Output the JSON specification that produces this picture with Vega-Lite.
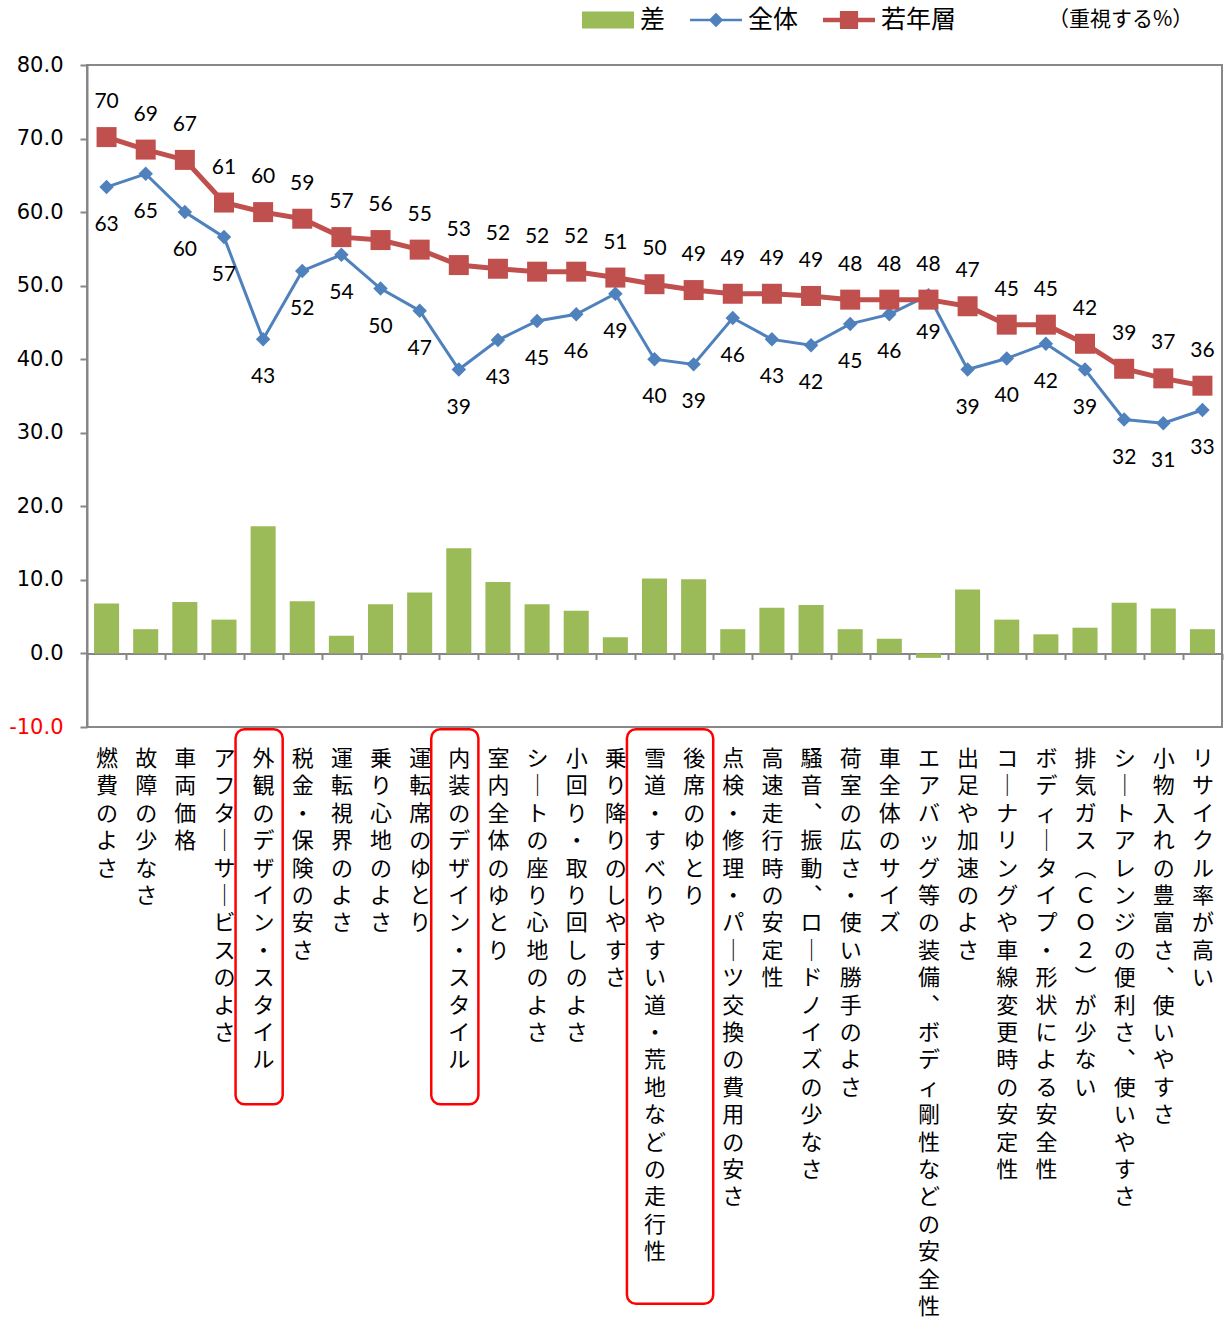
{
  "$schema": "https://vega.github.io/schema/vega-lite/v6.json",
  "width": 1135,
  "height": 662,
  "autosize": {"type": "none"},
  "padding": {"left": 87, "top": 65, "right": 4, "bottom": 592},
  "background": "white",
  "config": {
    "view": {"stroke": "#888888", "strokeWidth": 2},
    "legend": {"padding": 0}
  },
  "datasets": {
    "main": [
      {"cat": "燃費のよさ", "s": "差", "v": 6.8}, {"cat": "燃費のよさ", "s": "全体", "v": 63.4}, {"cat": "燃費のよさ", "s": "若年層", "v": 70.2},
      {"cat": "故障の少なさ", "s": "差", "v": 3.3}, {"cat": "故障の少なさ", "s": "全体", "v": 65.2}, {"cat": "故障の少なさ", "s": "若年層", "v": 68.5},
      {"cat": "車両価格", "s": "差", "v": 7.0}, {"cat": "車両価格", "s": "全体", "v": 60.0}, {"cat": "車両価格", "s": "若年層", "v": 67.1},
      {"cat": "アフターサービスのよさ", "s": "差", "v": 4.6}, {"cat": "アフターサービスのよさ", "s": "全体", "v": 56.6}, {"cat": "アフターサービスのよさ", "s": "若年層", "v": 61.3},
      {"cat": "外観のデザイン・スタイル", "s": "差", "v": 17.3}, {"cat": "外観のデザイン・スタイル", "s": "全体", "v": 42.7}, {"cat": "外観のデザイン・スタイル", "s": "若年層", "v": 60.0},
      {"cat": "税金・保険の安さ", "s": "差", "v": 7.1}, {"cat": "税金・保険の安さ", "s": "全体", "v": 52.0}, {"cat": "税金・保険の安さ", "s": "若年層", "v": 59.1},
      {"cat": "運転視界のよさ", "s": "差", "v": 2.4}, {"cat": "運転視界のよさ", "s": "全体", "v": 54.2}, {"cat": "運転視界のよさ", "s": "若年層", "v": 56.6},
      {"cat": "乗り心地のよさ", "s": "差", "v": 6.7}, {"cat": "乗り心地のよさ", "s": "全体", "v": 49.6}, {"cat": "乗り心地のよさ", "s": "若年層", "v": 56.2},
      {"cat": "運転席のゆとり", "s": "差", "v": 8.3}, {"cat": "運転席のゆとり", "s": "全体", "v": 46.6}, {"cat": "運転席のゆとり", "s": "若年層", "v": 54.9},
      {"cat": "内装のデザイン・スタイル", "s": "差", "v": 14.3}, {"cat": "内装のデザイン・スタイル", "s": "全体", "v": 38.6}, {"cat": "内装のデザイン・スタイル", "s": "若年層", "v": 52.8},
      {"cat": "室内全体のゆとり", "s": "差", "v": 9.7}, {"cat": "室内全体のゆとり", "s": "全体", "v": 42.6}, {"cat": "室内全体のゆとり", "s": "若年層", "v": 52.3},
      {"cat": "シートの座り心地のよさ", "s": "差", "v": 6.7}, {"cat": "シートの座り心地のよさ", "s": "全体", "v": 45.2}, {"cat": "シートの座り心地のよさ", "s": "若年層", "v": 51.9},
      {"cat": "小回り・取り回しのよさ", "s": "差", "v": 5.8}, {"cat": "小回り・取り回しのよさ", "s": "全体", "v": 46.1}, {"cat": "小回り・取り回しのよさ", "s": "若年層", "v": 51.9},
      {"cat": "乗り降りのしやすさ", "s": "差", "v": 2.2}, {"cat": "乗り降りのしやすさ", "s": "全体", "v": 48.9}, {"cat": "乗り降りのしやすさ", "s": "若年層", "v": 51.1},
      {"cat": "雪道・すべりやすい道・荒地などの走行性", "s": "差", "v": 10.2}, {"cat": "雪道・すべりやすい道・荒地などの走行性", "s": "全体", "v": 40.0}, {"cat": "雪道・すべりやすい道・荒地などの走行性", "s": "若年層", "v": 50.2},
      {"cat": "後席のゆとり", "s": "差", "v": 10.1}, {"cat": "後席のゆとり", "s": "全体", "v": 39.3}, {"cat": "後席のゆとり", "s": "若年層", "v": 49.4},
      {"cat": "点検・修理・パーツ交換の費用の安さ", "s": "差", "v": 3.3}, {"cat": "点検・修理・パーツ交換の費用の安さ", "s": "全体", "v": 45.6}, {"cat": "点検・修理・パーツ交換の費用の安さ", "s": "若年層", "v": 48.9},
      {"cat": "高速走行時の安定性", "s": "差", "v": 6.2}, {"cat": "高速走行時の安定性", "s": "全体", "v": 42.7}, {"cat": "高速走行時の安定性", "s": "若年層", "v": 48.9},
      {"cat": "騒音、振動、ロードノイズの少なさ", "s": "差", "v": 6.6}, {"cat": "騒音、振動、ロードノイズの少なさ", "s": "全体", "v": 41.9}, {"cat": "騒音、振動、ロードノイズの少なさ", "s": "若年層", "v": 48.6},
      {"cat": "荷室の広さ・使い勝手のよさ", "s": "差", "v": 3.3}, {"cat": "荷室の広さ・使い勝手のよさ", "s": "全体", "v": 44.8}, {"cat": "荷室の広さ・使い勝手のよさ", "s": "若年層", "v": 48.1},
      {"cat": "車全体のサイズ", "s": "差", "v": 2.0}, {"cat": "車全体のサイズ", "s": "全体", "v": 46.1}, {"cat": "車全体のサイズ", "s": "若年層", "v": 48.1},
      {"cat": "エアバッグ等の装備、ボディ剛性などの安全性", "s": "差", "v": -0.6}, {"cat": "エアバッグ等の装備、ボディ剛性などの安全性", "s": "全体", "v": 48.7}, {"cat": "エアバッグ等の装備、ボディ剛性などの安全性", "s": "若年層", "v": 48.1},
      {"cat": "出足や加速のよさ", "s": "差", "v": 8.7}, {"cat": "出足や加速のよさ", "s": "全体", "v": 38.6}, {"cat": "出足や加速のよさ", "s": "若年層", "v": 47.2},
      {"cat": "コーナリングや車線変更時の安定性", "s": "差", "v": 4.6}, {"cat": "コーナリングや車線変更時の安定性", "s": "全体", "v": 40.1}, {"cat": "コーナリングや車線変更時の安定性", "s": "若年層", "v": 44.7},
      {"cat": "ボディータイプ・形状による安全性", "s": "差", "v": 2.6}, {"cat": "ボディータイプ・形状による安全性", "s": "全体", "v": 42.1}, {"cat": "ボディータイプ・形状による安全性", "s": "若年層", "v": 44.7},
      {"cat": "排気ガス（ＣＯ２）が少ない", "s": "差", "v": 3.5}, {"cat": "排気ガス（ＣＯ２）が少ない", "s": "全体", "v": 38.6}, {"cat": "排気ガス（ＣＯ２）が少ない", "s": "若年層", "v": 42.1},
      {"cat": "シートアレンジの便利さ、使いやすさ", "s": "差", "v": 6.9}, {"cat": "シートアレンジの便利さ、使いやすさ", "s": "全体", "v": 31.8}, {"cat": "シートアレンジの便利さ、使いやすさ", "s": "若年層", "v": 38.7},
      {"cat": "小物入れの豊富さ、使いやすさ", "s": "差", "v": 6.1}, {"cat": "小物入れの豊富さ、使いやすさ", "s": "全体", "v": 31.3}, {"cat": "小物入れの豊富さ、使いやすさ", "s": "若年層", "v": 37.4},
      {"cat": "リサイクル率が高い", "s": "差", "v": 3.3}, {"cat": "リサイクル率が高い", "s": "全体", "v": 33.1}, {"cat": "リサイクル率が高い", "s": "若年層", "v": 36.4}
    ],
    "boxes": [
      {"a": "外観のデザイン・スタイル", "b": "外観のデザイン・スタイル", "hi": -10.3, "lo": -61.3},
      {"a": "内装のデザイン・スタイル", "b": "内装のデザイン・スタイル", "hi": -10.3, "lo": -61.3},
      {"a": "雪道・すべりやすい道・荒地などの走行性", "b": "後席のゆとり", "hi": -10.3, "lo": -88.4}
    ]
  },
  "layer": [
    {
      "data": {"name": "main"},
      "transform": [{"filter": "datum.s === '差'"}],
      "mark": {"type": "bar", "width": {"band": 0.64}, "color": "#9BBB59"},
      "encoding": {
        "x": {
          "field": "cat", "type": "nominal", "title": null,
          "scale": {
            "domain": ["燃費のよさ", "故障の少なさ", "車両価格", "アフターサービスのよさ", "外観のデザイン・スタイル", "税金・保険の安さ", "運転視界のよさ", "乗り心地のよさ", "運転席のゆとり", "内装のデザイン・スタイル", "室内全体のゆとり", "シートの座り心地のよさ", "小回り・取り回しのよさ", "乗り降りのしやすさ", "雪道・すべりやすい道・荒地などの走行性", "後席のゆとり", "点検・修理・パーツ交換の費用の安さ", "高速走行時の安定性", "騒音、振動、ロードノイズの少なさ", "荷室の広さ・使い勝手のよさ", "車全体のサイズ", "エアバッグ等の装備、ボディ剛性などの安全性", "出足や加速のよさ", "コーナリングや車線変更時の安定性", "ボディータイプ・形状による安全性", "排気ガス（ＣＯ２）が少ない", "シートアレンジの便利さ、使いやすさ", "小物入れの豊富さ、使いやすさ", "リサイクル率が高い"],
            "paddingInner": 0, "paddingOuter": 0
          },
          "axis": {
            "orient": "bottom",
            "offset": -73.56,
            "domainColor": "#868686", "domainWidth": 2,
            "tickColor": "#868686", "tickWidth": 2, "tickSize": 6, "tickBand": "extent",
            "labelAngle": 0, "labelAlign": "center", "labelBaseline": "top",
            "labelFont": "Noto Sans CJK JP", "labelFontSize": 22, "labelColor": "black",
            "labelLineHeight": 27.4, "labelPadding": 89, "labelLimit": 0,
            "labelOverlap": false, "labelFlush": false, "labelBound": false,
            "labelExpr": "split(replace(replace(replace(replace(datum.label, regexp('ー', 'g'), '｜'), regexp('、', 'g'), '︑'), '（', '︵'), '）', '︶'), '')",
            "grid": false
          }
        },
        "y": {
          "field": "v", "type": "quantitative", "title": null,
          "scale": {"domain": [-10, 80], "nice": false, "zero": false},
          "axis": {
            "values": [-10, 0, 10, 20, 30, 40, 50, 60, 70, 80],
            "labelExpr": "replace(format(datum.value, '.1f'), '−', '-')",
            "grid": false,
            "domainColor": "#868686", "domainWidth": 2,
            "tickColor": "#868686", "tickWidth": 2, "tickSize": 7,
            "labelFont": "DejaVu Sans", "labelFontSize": 21,
            "labelColor": {"condition": {"test": "datum.value < 0", "value": "#FF0000"}, "value": "black"},
            "labelPadding": 17
          }
        }
      }
    },
    {
      "data": {"name": "boxes"},
      "mark": {"type": "rect", "cornerRadius": 9, "stroke": "#FF0000", "strokeWidth": 2.5, "fill": "white", "fillOpacity": 0, "xOffset": -8, "x2Offset": 0},
      "encoding": {
        "x": {"field": "a", "type": "nominal", "title": null, "bandPosition": 0},
        "x2": {"field": "b", "bandPosition": 1},
        "y": {"field": "hi", "type": "quantitative", "title": null},
        "y2": {"field": "lo"}
      }
    },
    {
      "data": {"name": "main"},
      "transform": [{"filter": "datum.s === '全体'"}],
      "mark": {"type": "line", "color": "#4F81BD", "strokeWidth": 3},
      "encoding": {
        "x": {"field": "cat", "type": "nominal", "title": null},
        "y": {"field": "v", "type": "quantitative", "title": null}
      }
    },
    {
      "data": {"name": "main"},
      "transform": [{"filter": "datum.s === '若年層'"}],
      "mark": {"type": "line", "color": "#C0504D", "strokeWidth": 5},
      "encoding": {
        "x": {"field": "cat", "type": "nominal", "title": null},
        "y": {"field": "v", "type": "quantitative", "title": null}
      }
    },
    {
      "data": {"name": "main"},
      "transform": [{"filter": "datum.s === '全体'"}],
      "mark": {"type": "point", "shape": "diamond", "filled": true, "opacity": 1, "color": "#4F81BD", "size": 210},
      "encoding": {
        "x": {"field": "cat", "type": "nominal", "title": null},
        "y": {"field": "v", "type": "quantitative", "title": null}
      }
    },
    {
      "data": {"name": "main"},
      "transform": [{"filter": "datum.s === '若年層'"}],
      "mark": {"type": "point", "shape": "square", "filled": true, "opacity": 1, "color": "#C0504D", "size": 400},
      "encoding": {
        "x": {"field": "cat", "type": "nominal", "title": null},
        "y": {"field": "v", "type": "quantitative", "title": null}
      }
    },
    {
      "data": {"name": "main"},
      "transform": [{"filter": "datum.s === '全体'"}],
      "mark": {"type": "text", "font": "Lato", "fontSize": 21, "color": "black", "baseline": "middle", "align": "center", "dy": 38},
      "encoding": {
        "x": {"field": "cat", "type": "nominal", "title": null},
        "y": {"field": "v", "type": "quantitative", "title": null},
        "text": {"field": "v", "type": "quantitative", "format": ".0f"}
      }
    },
    {
      "data": {"name": "main"},
      "transform": [{"filter": "datum.s === '若年層'"}],
      "mark": {"type": "text", "font": "Lato", "fontSize": 21, "color": "black", "baseline": "middle", "align": "center", "dy": -35},
      "encoding": {
        "x": {"field": "cat", "type": "nominal", "title": null},
        "y": {"field": "v", "type": "quantitative", "title": null},
        "text": {"field": "v", "type": "quantitative", "format": ".0f"}
      }
    },
    {
      "data": {"name": "main"},
      "transform": [{"filter": "false"}],
      "mark": {"type": "point", "filled": true, "opacity": 1},
      "encoding": {
        "x": {"field": "cat", "type": "nominal", "title": null},
        "y": {"field": "v", "type": "quantitative", "title": null},
        "color": {
          "field": "s", "type": "nominal", "title": "（重視する%）",
          "scale": {"domain": ["差", "全体", "若年層"], "range": ["#9BBB59", "#4F81BD", "#C0504D"]},
          "legend": {
            "orient": "none", "legendX": 495, "legendY": -71, "direction": "horizontal",
            "symbolSize": 2704, "symbolStrokeWidth": 0, "symbolOpacity": 1,
            "labelFont": "Noto Sans CJK JP", "labelFontSize": 25, "labelColor": "black", "labelOffset": 6,
            "columnPadding": 24,
            "titleOrient": "right", "titleFont": "Noto Sans CJK JP", "titleFontSize": 21, "titleFontWeight": "normal",
            "titleColor": "black", "titlePadding": 92, "titleAnchor": "middle", "titleBaseline": "line-top", "titleLineHeight": 12.4
          }
        },
        "shape": {
          "field": "s", "type": "nominal", "title": "（重視する%）",
          "scale": {
            "domain": ["差", "全体", "若年層"],
            "range": [
              "M-1,-0.33H1V0.33H-1Z",
              "M-1,-0.05H1V0.05H-1Z M0,-0.28L0.28,0L0,0.28L-0.28,0Z",
              "M-1,-0.09H1V0.09H-1Z M-0.35,-0.35H0.35V0.35H-0.35Z"
            ]
          },
          "legend": {
            "orient": "none", "legendX": 495, "legendY": -71, "direction": "horizontal",
            "symbolSize": 2704, "symbolStrokeWidth": 0, "symbolOpacity": 1,
            "labelFont": "Noto Sans CJK JP", "labelFontSize": 25, "labelColor": "black", "labelOffset": 6,
            "columnPadding": 24,
            "titleOrient": "right", "titleFont": "Noto Sans CJK JP", "titleFontSize": 21, "titleFontWeight": "normal",
            "titleColor": "black", "titlePadding": 92, "titleAnchor": "middle", "titleBaseline": "line-top", "titleLineHeight": 12.4
          }
        }
      }
    }
  ]
}
